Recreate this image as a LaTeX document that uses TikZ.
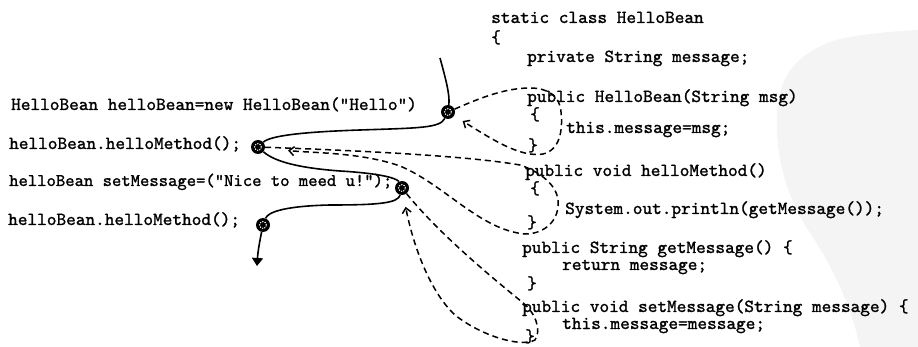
\documentclass[tikz,border=0pt]{standalone}
\usepackage{fontspec}
\newfontfamily\codigofont{lmmono10-regular.otf}[FakeBold=1.3]
\usetikzlibrary{arrows.meta}

\begin{document}
\begin{tikzpicture}[
    x=1pt, y=-1pt,
    codigo/.style={
        anchor=base west,
        inner sep=0pt,
        font=\fontsize{18.4}{20}\selectfont\codigofont,
    },
    codigo_estrecho/.style={codigo, font=\fontsize{17.8}{20}\selectfont\codigofont}, % linea mas apretada
    punto/.style={
        circle,
        fill=black,
        inner sep=0pt,
        minimum size=14pt,
        path picture={\draw[white, line width=0.9pt, dash pattern=on 1.3pt off 1.1pt]
            (path picture bounding box.center) circle (3.4pt);},
    },
    flujo/.style={line width=1.6pt},
    llamada/.style={line width=1.5pt, dash pattern=on 6pt off 4pt},
    vuelta/.style={llamada, -{Straight Barb[length=5pt, width=9pt]}}
]
\useasboundingbox (0,0) rectangle (918,347);

% Marca de agua al fondo
\fill[gray!9] (918,30) .. controls (880,32) and (845,36) .. (827,43)
    .. controls (790,60) and (775,80) .. (777,133)
    .. controls (780,180) and (795,210) .. (810,233)
    .. controls (828,260) and (850,300) .. (860,347) -- (918,347) -- cycle;

% Programa principal
\node[codigo] (crear) at (11,110) {HelloBean helloBean=new HelloBean("Hello")};
\node[codigo] (llamar1) at (9,149) {helloBean.helloMethod();};
\node[codigo_estrecho] (asignar) at (9,186) {helloBean setMessage=("Nice to meed u!");};
\node[codigo] (llamar2) at (8,225) {helloBean.helloMethod();};

% Clase HelloBean
\node[codigo] (clase) at (491,23) {static class HelloBean};
\node[codigo] (abre) at (491,43) {\{};
\node[codigo] (campo) at (527,62) {private String message;};
\node[codigo] (ctor) at (527,102) {public HelloBean(String msg)};
\node[codigo] (ctor_abre) at (530,120) {\{};
\node[codigo] (ctor_cuerpo) at (566,133) {this.message=msg;};
\node[codigo] (ctor_cierra) at (528,151) {\}};
\node[codigo] (hm) at (525,176) {public void helloMethod()};
\node[codigo] (hm_abre) at (530,194) {\{};
\node[codigo] (hm_cuerpo) at (565,214) {System.out.println(getMessage());};
\node[codigo] (hm_cierra) at (527,228) {\}};
\node[codigo] (gm) at (522,253) {public String getMessage() \{};
\node[codigo] (gm_cuerpo) at (562,270) {return message;};
\node[codigo] (gm_cierra) at (527,289) {\}};
\node[codigo] (sm) at (522,312) {public void setMessage(String message) \{};
\node[codigo] (sm_cuerpo) at (562,329) {this.message=message;};
\node[codigo] (sm_cierra) at (525,342) {\}};

% Puntos de llamada
\node[punto] (c1) at (448,112) {};
\node[punto] (c2) at (258,147) {};
\node[punto] (c3) at (402,188) {};
\node[punto] (c4) at (263,225) {};
\coordinate (inicio) at (440,58);
\coordinate (fin) at (257,266);

% Flujo de ejecucion
\draw[flujo] (inicio) .. controls (446,80) and (450,95) .. (c1);
\draw[flujo] (c1) .. controls (440,128) and (420,128) .. (360,130)
    .. controls (300,132) and (270,136) .. (c2);
\draw[flujo] (c2) .. controls (275,162) and (300,168) .. (340,171)
    .. controls (390,174) and (398,180) .. (c3);
\draw[flujo] (c3) .. controls (398,203) and (380,205) .. (330,205)
    .. controls (285,206) and (268,212) .. (c4);
\draw[flujo, -{Triangle[length=8pt, width=11pt]}] (c4) .. controls (260,240) and (258,250) .. (fin);

% Llamadas y retornos
\draw[vuelta, shorten >=10pt] (c1) .. controls (480,98) and (505,88) .. (530,88)
    .. controls (548,88) and (560,96) .. (561,112)
    .. controls (563,130) and (560,150) .. (543,154)
    .. controls (520,158) and (490,138) .. (c1);
\draw[vuelta, shorten >=23pt] (c2) .. controls (400,152) and (480,158) .. (520,165)
    .. controls (535,170) and (556,182) .. (558,200)
    .. controls (560,220) and (545,234) .. (525,234)
    .. controls (480,230) and (445,185) .. (400,166)
    .. controls (360,152) and (310,153) .. (c2);
\draw[vuelta, shorten >=12pt] (c3) .. controls (440,235) and (495,280) .. (522,302)
    .. controls (535,312) and (542,330) .. (535,340)
    .. controls (520,348) and (480,335) .. (455,315)
    .. controls (428,290) and (412,240) .. (c3);

\end{tikzpicture}
\end{document}
